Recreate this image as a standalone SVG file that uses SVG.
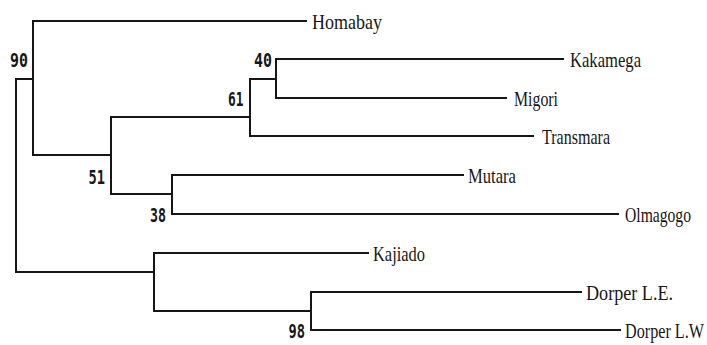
<svg xmlns="http://www.w3.org/2000/svg" width="707" height="345" viewBox="0 0 707 345">
  <style>
    .br { fill: none; stroke: #161616; stroke-width: 2; stroke-linecap: square; }
    .leaf { font-family: "Liberation Serif", "Times New Roman", serif; font-size: 22px; fill: #161616; }
    .bs { font-family: "DejaVu Sans Mono", "Liberation Mono", monospace; font-weight: bold; font-size: 19px; fill: #161616; }
  </style>
  <rect width="707" height="345" fill="#ffffff"/>

  <!-- branches of the tree -->
  <g id="connectors">
    <!-- root -->
    <path class="br" d="M33 79 H16 V272 H154"/>
    <!-- node 90 -->
    <path class="br" d="M306 21 H33 V155 H111"/>
    <!-- node 51 -->
    <path class="br" d="M250 117 H111 V194 H172"/>
    <!-- node 61 -->
    <path class="br" d="M276 79 H250 V136 H533"/>
    <!-- node 40 -->
    <path class="br" d="M563 59 H276 V98 H506"/>
    <!-- node 38 -->
    <path class="br" d="M463 175 H172 V214 H618"/>
    <!-- Kajiado / Dorper clade -->
    <path class="br" d="M368 253 H154 V311 H311"/>
    <!-- node 98 -->
    <path class="br" d="M581 292 H311 V330 H620"/>
  </g>

  <!-- leaves: serif names, condensed horizontally to 75% -->
  <g id="leaf-homabay"><text class="leaf" transform="translate(312 28.5) scale(0.75 1)" textLength="93.3" lengthAdjust="spacingAndGlyphs">Homabay</text></g>
  <g id="leaf-kakamega"><text class="leaf" transform="translate(570 66.5) scale(0.75 1)" textLength="94.7" lengthAdjust="spacingAndGlyphs">Kakamega</text></g>
  <g id="leaf-migori"><text class="leaf" transform="translate(514 105.5) scale(0.75 1)" textLength="58.7" lengthAdjust="spacingAndGlyphs">Migori</text></g>
  <g id="leaf-transmara"><text class="leaf" transform="translate(542 143.5) scale(0.75 1)" textLength="90.7" lengthAdjust="spacingAndGlyphs">Transmara</text></g>
  <g id="leaf-mutara"><text class="leaf" transform="translate(468 182.5) scale(0.75 1)" textLength="64" lengthAdjust="spacingAndGlyphs">Mutara</text></g>
  <g id="leaf-olmagogo"><text class="leaf" transform="translate(625 221.5) scale(0.75 1)" textLength="88" lengthAdjust="spacingAndGlyphs">Olmagogo</text></g>
  <g id="leaf-kajiado"><text class="leaf" transform="translate(373 260.5) scale(0.75 1)" textLength="69.3" lengthAdjust="spacingAndGlyphs">Kajiado</text></g>
  <g id="leaf-dorper-le"><text class="leaf" transform="translate(586 299.5) scale(0.75 1)" textLength="116" lengthAdjust="spacingAndGlyphs">Dorper L.E.</text></g>
  <g id="leaf-dorper-lw"><text class="leaf" transform="translate(625 337.5) scale(0.75 1)" textLength="105.3" lengthAdjust="spacingAndGlyphs">Dorper L.W</text></g>

  <!-- bootstrap values at internal nodes -->
  <g id="node-90"><text class="bs" x="10" y="66.5" textLength="18" lengthAdjust="spacingAndGlyphs">90</text></g>
  <g id="node-40"><text class="bs" x="254" y="66.5" textLength="18" lengthAdjust="spacingAndGlyphs">40</text></g>
  <g id="node-61"><text class="bs" x="228" y="106" textLength="15.5" lengthAdjust="spacingAndGlyphs">61</text></g>
  <g id="node-51"><text class="bs" x="88.5" y="183.5" textLength="16.5" lengthAdjust="spacingAndGlyphs">51</text></g>
  <g id="node-38"><text class="bs" x="150" y="221.5" textLength="16" lengthAdjust="spacingAndGlyphs">38</text></g>
  <g id="node-98"><text class="bs" x="288.5" y="338" textLength="16.5" lengthAdjust="spacingAndGlyphs">98</text></g>
</svg>
